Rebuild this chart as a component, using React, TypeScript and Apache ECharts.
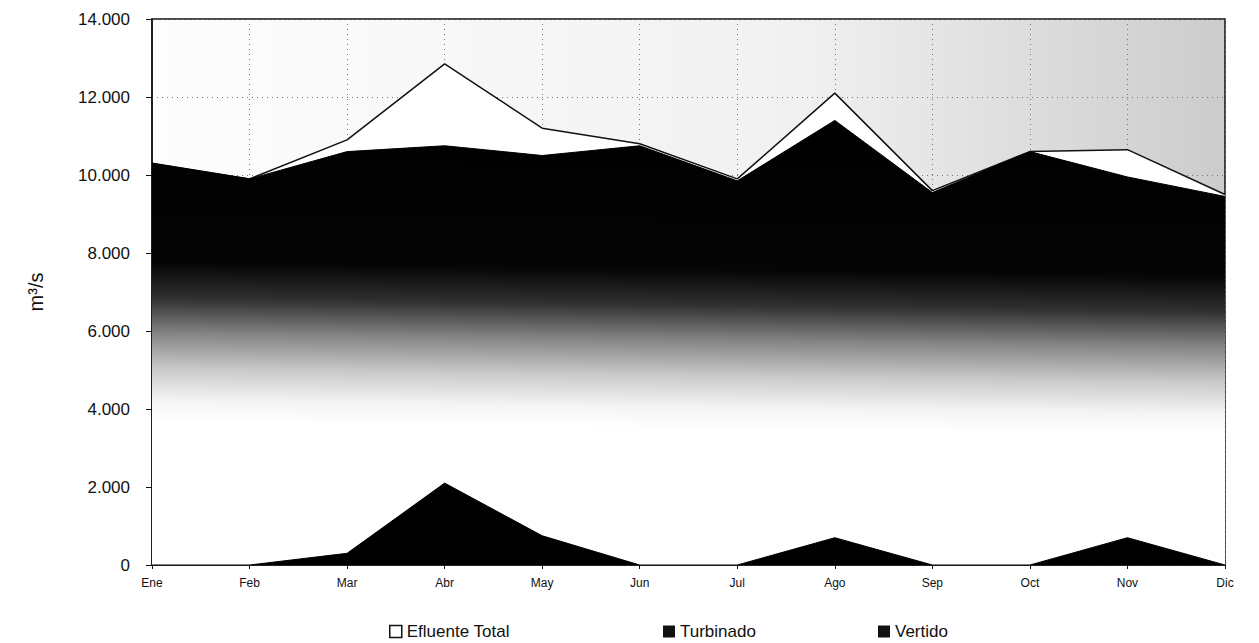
import React, { useEffect, useRef } from "react";
import * as echarts from "echarts";

const months = ["Ene", "Feb", "Mar", "Abr", "May", "Jun", "Jul", "Ago", "Sep", "Oct", "Nov", "Dic"];
const efluenteTotal = [10300, 9900, 10900, 12850, 11200, 10800, 9900, 12100, 9600, 10600, 10650, 9500];
const turbinado = [10300, 9900, 10600, 10750, 10500, 10750, 9850, 11400, 9550, 10600, 9950, 9450];
const vertido = [0, 0, 300, 2100, 750, 0, 0, 700, 0, 0, 700, 0];
const yTicks = [0, 2000, 4000, 6000, 8000, 10000, 12000, 14000];

const fmt = (v: number) => (v === 0 ? "0" : `${v / 1000}.000`);

export default function App() {
  const ref = useRef<HTMLDivElement>(null);
  useEffect(() => {
    if (!ref.current) return;
    const chart = echarts.init(ref.current, null, { renderer: "svg" });
    const font = "Arial, 'Liberation Sans', sans-serif";
    const legendText = { fontSize: 17, color: "#111", fontFamily: font };
    chart.setOption({
      animation: false,
      backgroundColor: "#ffffff",
      textStyle: { fontFamily: font },
      grid: {
        left: 144,
        right: 26,
        top: 11,
        bottom: 78,
        show: true,
        borderColor: "#111",
        borderWidth: 1.5,
        backgroundColor: new echarts.graphic.LinearGradient(0, 0, 1, 0, [
          { offset: 0, color: "#fdfdfd" },
          { offset: 0.6, color: "#f1f1f1" },
          { offset: 1, color: "#cccccc" },
        ]),
      },
      legend: [
        {
          data: [{ name: "Efluente Total", itemStyle: { color: "#fff", borderColor: "#111", borderWidth: 1.5 } }],
          left: 376,
          top: 610,
          icon: "rect",
          itemWidth: 12,
          itemHeight: 12,
          textStyle: legendText,
        },
        {
          data: ["Turbinado"],
          left: 650,
          top: 610,
          icon: "rect",
          itemWidth: 12,
          itemHeight: 12,
          textStyle: legendText,
        },
        {
          data: ["Vertido"],
          left: 865,
          top: 610,
          icon: "rect",
          itemWidth: 12,
          itemHeight: 12,
          textStyle: legendText,
        },
      ],
      xAxis: {
        type: "category",
        data: months,
        boundaryGap: false,
        axisLine: { lineStyle: { color: "#111", width: 1.5 } },
        axisTick: { show: true, length: 4, lineStyle: { color: "#111" } },
        axisLabel: { fontSize: 12, color: "#111", margin: 12 },
        splitLine: { show: true, lineStyle: { color: "#777", type: [1, 4], width: 1 } },
      },
      yAxis: {
        type: "value",
        min: 0,
        max: 14000,
        interval: 2000,
        name: "m³/s",
        nameLocation: "middle",
        nameRotate: 90,
        nameGap: 106,
        nameTextStyle: { fontSize: 20, color: "#111" },
        axisLine: { show: true, lineStyle: { color: "#111", width: 1.5 } },
        axisTick: { show: true, length: 6, lineStyle: { color: "#111" } },
        axisLabel: {
          fontSize: 17,
          color: "#111",
          margin: 22,
          formatter: (v: number) => (yTicks.includes(v) ? fmt(v) : ""),
        },
        splitLine: { show: true, lineStyle: { color: "#777", type: [1, 4], width: 1 } },
      },
      series: [
        {
          name: "Efluente Total",
          type: "line",
          data: efluenteTotal,
          symbol: "none",
          z: 1,
          itemStyle: { color: "#fff", borderColor: "#111" },
          lineStyle: { color: "#111", width: 1.5 },
          areaStyle: { color: "#fff", opacity: 1 },
        },
        {
          name: "Turbinado",
          type: "line",
          data: turbinado,
          symbol: "none",
          z: 2,
          itemStyle: { color: "#111" },
          lineStyle: { color: "#000", width: 1 },
          areaStyle: {
            opacity: 1,
            color: new echarts.graphic.LinearGradient(0.03, 0, 0, 1, [
              { offset: 0, color: "#000" },
              { offset: 0.32, color: "#050505" },
              { offset: 0.4, color: "#303030" },
              { offset: 0.48, color: "#858585" },
              { offset: 0.56, color: "#cacaca" },
              { offset: 0.63, color: "#f4f4f4" },
              { offset: 0.68, color: "#ffffff" },
              { offset: 1, color: "#ffffff" },
            ]),
          },
        },
        {
          name: "Vertido",
          type: "line",
          data: vertido,
          symbol: "none",
          z: 3,
          itemStyle: { color: "#111" },
          lineStyle: { color: "#000", width: 1 },
          areaStyle: { color: "#000", opacity: 1 },
        },
      ],
    });
    return () => chart.dispose();
  }, []);
  return <div ref={ref} style={{ width: 1243, height: 635 }} />;
}
